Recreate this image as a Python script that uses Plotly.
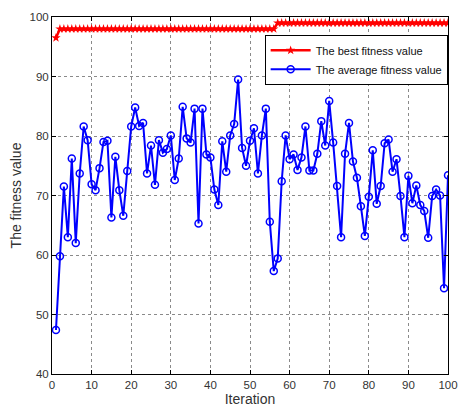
import plotly.graph_objects as go

iterations = list(range(1, 101))

best_fitness = [96.5] + [98.0] * 55 + [99.0] * 44

avg_fitness = [
    47.4, 59.8, 71.5, 63.0, 76.2, 62.0, 73.7, 81.6, 79.3, 71.9,
    70.9, 74.6, 79.0, 79.2, 66.3, 76.5, 70.9, 66.6, 74.1, 81.6,
    84.8, 81.7, 82.2, 73.7, 78.4, 71.8, 79.3, 77.2, 77.8, 80.1,
    72.6, 76.2, 84.9, 79.6, 78.9, 84.6, 65.3, 84.6, 76.9, 76.4,
    71.0, 68.4, 79.1, 74.0, 80.1, 82.0, 89.5, 78.0, 75.0, 79.2,
    81.3, 73.7, 80.1, 84.6, 65.6, 57.3, 59.4, 72.4, 80.1, 76.1,
    76.9, 74.3, 76.4, 81.6, 74.2, 74.2, 77.0, 82.5, 78.4, 85.9,
    78.9, 71.6, 63.0, 77.0, 82.2, 75.7, 73.0, 68.2, 63.2, 69.8,
    77.6, 68.6, 71.6, 78.8, 79.4, 74.0, 76.1, 69.9, 63.0, 73.3,
    68.7, 71.7, 68.4, 67.4, 62.9, 69.9, 71.0, 70.0, 54.4, 73.4,
]

x_ticks = list(range(0, 101, 10))
y_ticks = list(range(40, 101, 10))

fig = go.Figure()
fig.add_trace(go.Scatter(
    x=iterations, y=best_fitness, mode="lines+markers",
    name="The best fitness value",
    line=dict(color="#ff0000", width=2.5),
    marker=dict(symbol="star", size=7, color="#ff0000"),
))
fig.add_trace(go.Scatter(
    x=iterations, y=avg_fitness, mode="lines+markers",
    name="The average fitness value",
    line=dict(color="#0000ff", width=2),
    marker=dict(symbol="circle-open", size=7, color="#0000ff",
                line=dict(width=1.5, color="#0000ff")),
))

axis_common = dict(
    showline=True, linecolor="black", linewidth=1, mirror="ticks",
    ticks="inside", ticklen=4, tickcolor="black",
    showgrid=True, gridcolor="#8a8a8a", gridwidth=1, griddash="dot",
    zeroline=False, automargin=False, ticklabeloverflow="allow",
    tickfont=dict(family="Liberation Sans, Arial, sans-serif", size=11.5, color="#333333"),
)

fig.update_layout(
    width=459, height=412,
    margin=dict(l=52, r=11, t=17, b=38),
    paper_bgcolor="white", plot_bgcolor="white",
    font=dict(family="Liberation Sans, Arial, sans-serif", color="#333333"),
    xaxis=dict(range=[0, 100], tickvals=x_ticks,
               title=dict(text="Iteration", font=dict(size=14), standoff=0),
               **axis_common),
    yaxis=dict(range=[40, 100], tickvals=y_ticks,
               title=dict(text="The fitness value", font=dict(size=14), standoff=4),
               **axis_common),
    legend=dict(x=0.537, y=0.95, xanchor="left", yanchor="top",
                bgcolor="white", bordercolor="black", borderwidth=1,
                font=dict(size=11, color="#111111"), tracegroupgap=0, itemwidth=40),
    showlegend=True,
)

fig.write_html("out.html", config={"displayModeBar": False},
               post_script="document.body.style.margin='0';")
